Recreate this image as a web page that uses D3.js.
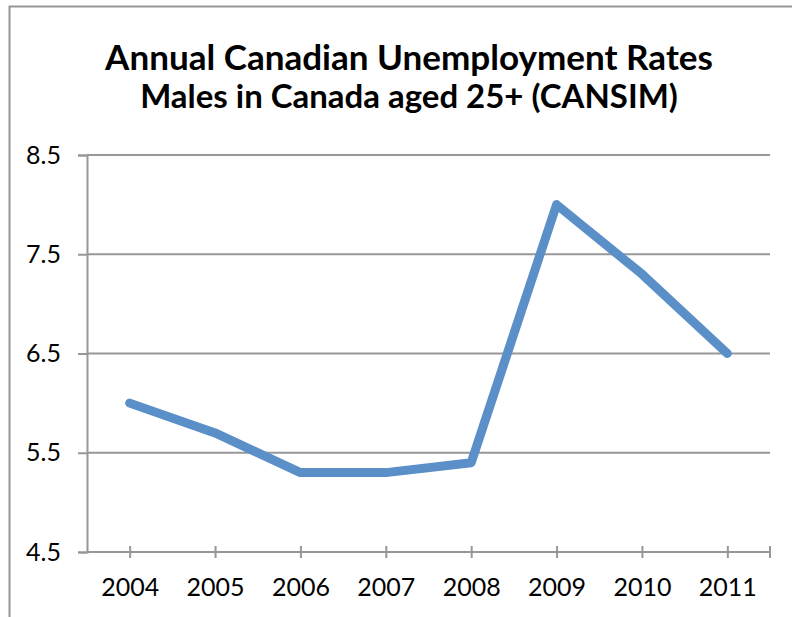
<!DOCTYPE html>
<html><head><meta charset="utf-8">
<script src="https://cdn.jsdelivr.net/npm/d3@7"></script>
<style>body{margin:0;background:#fff}svg{display:block}</style>
</head><body>
<svg id="c" width="792" height="617"></svg>
<script>
const years = ["2004","2005","2006","2007","2008","2009","2010","2011"];
const rates = [6.0, 5.7, 5.3, 5.3, 5.4, 8.0, 7.3, 6.5];
const yTicks = [4.5, 5.5, 6.5, 7.5, 8.5];
const titleText = "Annual Canadian Unemployment Rates";
const subtitleText = "Males in Canada aged 25+ (CANSIM)";

(function () {
const svg = d3.select("#c");
const font = "Lato, 'Open Sans', sans-serif";
const gray = "#979797";

// outer frame
svg.append("rect").attr("x", 9.5).attr("y", 6.5).attr("width", 800).attr("height", 700)
  .attr("fill", "none").attr("stroke", gray).attr("stroke-width", 2);

const pLeft = 87, pRight = 770, pTop = 155, pBottom = 552;
const x = d3.scalePoint().domain(years).range([pLeft, pRight]).padding(0.5);
const y = d3.scaleLinear().domain([4.5, 8.5]).range([pBottom, pTop]);

// gridlines
svg.append("g").selectAll("line").data(yTicks.slice(1)).join("line")
  .attr("x1", pLeft).attr("x2", pRight).attr("y1", d => y(d)).attr("y2", d => y(d))
  .attr("stroke", gray).attr("stroke-width", 2);

// y axis
const yAxis = svg.append("g").attr("transform", `translate(${pLeft},0)`)
  .call(d3.axisLeft(y).tickValues(yTicks).tickSize(9).tickPadding(17).tickFormat(d3.format(".1f")));
yAxis.attr("font-size", 25).attr("font-family", font);
yAxis.select(".domain").attr("stroke", gray).attr("stroke-width", 2);
yAxis.selectAll(".tick line").attr("stroke", gray).attr("stroke-width", 2);
yAxis.selectAll("text").attr("fill", "#000");

// x axis
const xAxis = svg.append("g").attr("transform", `translate(0,${pBottom})`)
  .call(d3.axisBottom(x).tickSize(6).tickPadding(20));
xAxis.attr("font-size", 25).attr("font-family", font);
xAxis.select(".domain").attr("d", `M${pLeft},0H${pRight}`).attr("stroke", gray).attr("stroke-width", 2);
xAxis.selectAll(".tick line").attr("y1", -6).attr("y2", 6).attr("stroke", gray).attr("stroke-width", 2);
xAxis.append("line").attr("x1", pRight).attr("x2", pRight).attr("y1", -6).attr("y2", 6)
  .attr("stroke", gray).attr("stroke-width", 2);
xAxis.selectAll("text").attr("fill", "#000");

// line
const line = d3.line().x((d, i) => x(years[i])).y(d => y(d));
svg.append("path").datum(rates).attr("d", line).attr("fill", "none")
  .attr("stroke", "#5A8FC8").attr("stroke-width", 9)
  .attr("stroke-linecap", "round").attr("stroke-linejoin", "round");

// titles, fit to target widths
function fitText(txt, cx, baseline, targetW, startSize) {
  const t = svg.append("text").attr("x", cx).attr("y", baseline).attr("text-anchor", "middle")
    .attr("font-family", font).attr("font-weight", "bold").attr("font-size", startSize).attr("fill", "#000").text(txt);
  const w = t.node().getComputedTextLength();
  t.attr("font-size", startSize * targetW / w);
  return t;
}
fitText(titleText, 409, 70, 608, 32);
fitText(subtitleText, 409, 108, 538, 24);
})();
</script>
</body></html>
